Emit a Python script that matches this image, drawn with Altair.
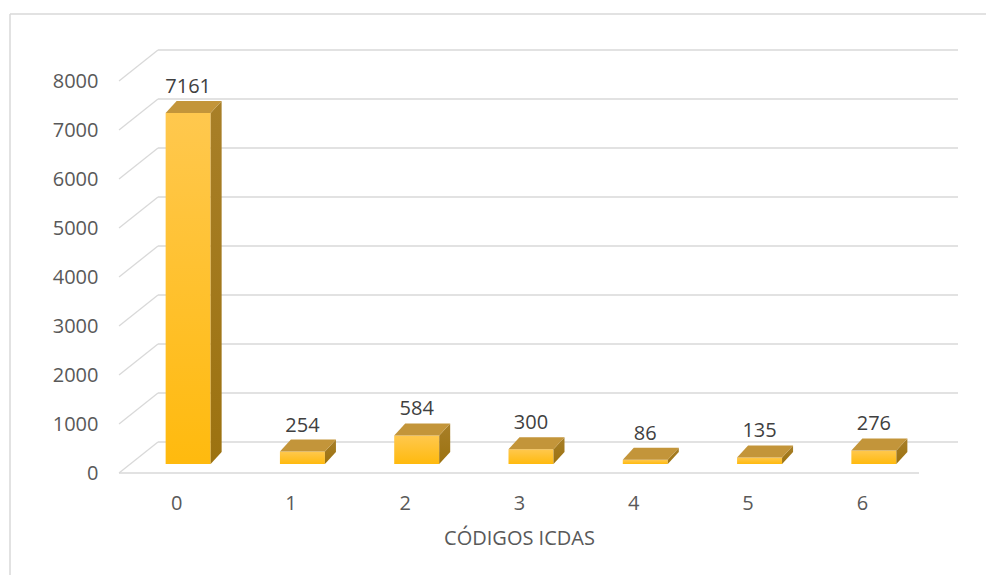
import altair as alt
import pandas as pd

# ---- data ----
codes = ["0", "1", "2", "3", "4", "5", "6"]
counts = [7161, 254, 584, 300, 86, 135, 276]
y_ticks = [0, 1000, 2000, 3000, 4000, 5000, 6000, 7000, 8000]

# ---- geometry (pixels) for the pseudo-3D look ----
W, H = 800, 392
UX = 7 / W          # x data units per px
UY = 8000 / H       # y data units per px
WALL_DX, WALL_DY = 39, 31     # depth of back wall
BAR_DX, BAR_DY = 12, 9        # bar front-plane shift
BAR_W = 45
BAR_DEPTH_X, BAR_DEPTH_Y = 11, 12

FONT = "Open Sans"
GRID = "#D9D9D9"
FS = 20

# gridline table
grid = pd.DataFrame({"t": y_ticks})
grid["yb"] = grid["t"] + WALL_DY * UY
grid["xl"] = -0.5
grid["xd"] = -0.5 + WALL_DX * UX
grid["xr"] = 6.5 + WALL_DX * UX

# bars
rows_front, rows_side, rows_top, rows_lab = [], [], [], []
for i, (c, v) in enumerate(zip(codes, counts)):
    cx = i + BAR_DX * UX
    xl = cx - BAR_W / 2 * UX
    xr = cx + BAR_W / 2 * UX
    yb = BAR_DY * UY
    yt = v + BAR_DY * UY
    ddx = BAR_DEPTH_X * UX
    ddy = BAR_DEPTH_Y * UY
    rows_front.append({"code": c, "x1": xl, "x2": xr, "y1": yb, "y2": yt})
    rows_side += [
        {"code": c, "x": xr, "ytop": yt, "ybot": yb},
        {"code": c, "x": xr + ddx, "ytop": yt + ddy, "ybot": yb + ddy},
    ]
    rows_top += [
        {"code": c, "x": xl, "ytop": yt, "ybot": yt},
        {"code": c, "x": xl + ddx, "ytop": yt + ddy, "ybot": yt},
        {"code": c, "x": xr, "ytop": yt + ddy, "ybot": yt},
        {"code": c, "x": xr + ddx, "ytop": yt + ddy, "ybot": yt + ddy},
    ]
    rows_lab.append({"code": c, "x": cx, "y": yt, "label": str(v)})

front = pd.DataFrame(rows_front)
side = pd.DataFrame(rows_side)
top = pd.DataFrame(rows_top)
lab = pd.DataFrame(rows_lab)

xs = alt.Scale(domain=[-0.5, 6.5], nice=False, zero=False)
ys = alt.Scale(domain=[0, 8000], nice=False)

x_axis = alt.Axis(
    values=list(range(7)), format="d", grid=False, ticks=False, domain=False,
    labelFont=FONT, labelFontSize=FS, labelColor="#595959", labelPadding=20,
    title="CÓDIGOS ICDAS", titleFont=FONT, titleFontSize=FS,
    titleFontWeight="normal", titleColor="#595959", titlePadding=15,
)
y_axis = alt.Axis(
    values=y_ticks, format="d", grid=False, ticks=False, domain=False, title="",
    labelFont=FONT, labelFontSize=FS, labelColor="#595959", labelPadding=21,
)


def X(f):
    return alt.X(f, scale=xs, axis=x_axis, title="CÓDIGOS ICDAS")


def Y(f, **kw):
    return alt.Y(f, scale=ys, axis=y_axis, title="", **kw)


back_lines = alt.Chart(grid).mark_rule(color=GRID, strokeWidth=1.3).encode(
    x=X("xd:Q"), x2="xr:Q", y=Y("yb:Q"),
)
diag_lines = alt.Chart(grid).mark_rule(color=GRID, strokeWidth=1.3).encode(
    x=X("xl:Q"), x2="xd:Q", y=Y("t:Q"), y2="yb:Q",
)
floor = alt.Chart(pd.DataFrame({"a": [-0.5], "b": [6.5], "y": [0]})).mark_rule(
    color=GRID, strokeWidth=1.3
).encode(x=X("a:Q"), x2="b:Q", y=Y("y:Q"))

front_g = alt.Gradient(
    gradient="linear",
    stops=[alt.GradientStop(color="#FFC84E", offset=0), alt.GradientStop(color="#FFBA0E", offset=1)],
    x1=0, x2=0, y1=0, y2=1,
)
side_g = alt.Gradient(
    gradient="linear",
    stops=[alt.GradientStop(color="#A87F28", offset=0), alt.GradientStop(color="#9C7210", offset=1)],
    x1=0, x2=0, y1=0, y2=1,
)

front_bars = alt.Chart(front).mark_bar(color=front_g).encode(
    x=X("x1:Q"), x2="x2:Q", y=Y("y1:Q"), y2="y2:Q",
)
side_faces = alt.Chart(side).mark_area(color=side_g, interpolate="linear").encode(
    x=X("x:Q"), y=Y("ytop:Q", stack=None), y2="ybot:Q", detail="code:N",
)
top_faces = alt.Chart(top).mark_area(color="#C3953A", interpolate="linear").encode(
    x=X("x:Q"), y=Y("ytop:Q", stack=None), y2="ybot:Q", detail="code:N",
)
labels = alt.Chart(lab).mark_text(
    font=FONT, fontSize=FS, color="#404040", dy=-26, baseline="middle", align="center"
).encode(x=X("x:Q"), y=Y("y:Q"), text="label:N")

frame_top = alt.Chart(pd.DataFrame({"k": [0]})).mark_rule(color=GRID, strokeWidth=1.5).encode(
    x=alt.value(-109), x2=alt.value(867), y=alt.value(-67)
)
frame_left = alt.Chart(pd.DataFrame({"k": [0]})).mark_rule(color=GRID, strokeWidth=1.5).encode(
    x=alt.value(-109), y=alt.value(-67), y2=alt.value(494)
)

chart = alt.layer(
    back_lines, diag_lines, floor, front_bars, side_faces, top_faces, labels,
    frame_top, frame_left,
).properties(
    width=W, height=H, background="white",
    padding={"left": 1, "top": 5, "right": 0, "bottom": 0},
).configure_view(strokeWidth=0, stroke="transparent")

chart.save("out.html", embed_options={"renderer": "svg", "actions": False})
